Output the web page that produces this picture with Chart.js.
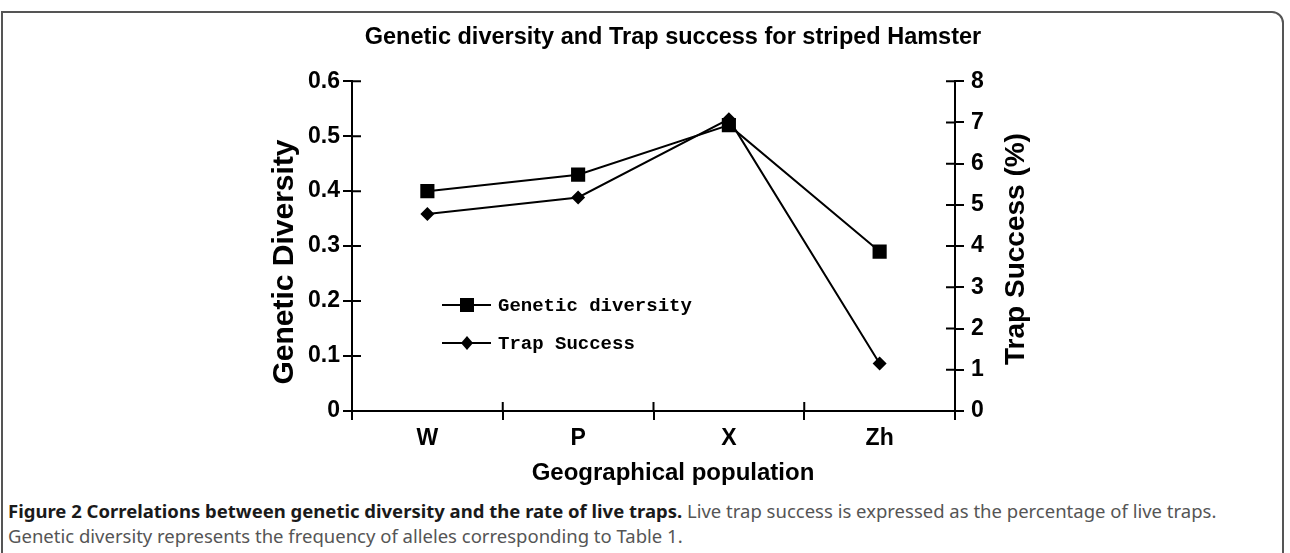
<!DOCTYPE html>
<html>
<head>
<meta charset="utf-8">
<script src="https://cdn.jsdelivr.net/npm/chart.js@4.4.0/dist/chart.umd.min.js"></script>
<style>
  html, body { margin: 0; padding: 0; background: #fff; }
  body { width: 1290px; height: 553px; position: relative; overflow: hidden; }
  #frame { position: absolute; left: 1px; top: 11px; width: 1283px; height: 600px; border: 2px solid #555; border-top-right-radius: 12px; box-sizing: border-box; }
  #graf { position: absolute; left: 0; top: 0; }
  #caption { position: absolute; left: 8px; top: 498px; font-family: "Noto Sans", sans-serif; font-size: 18.5px; line-height: 25px; color: #555; white-space: nowrap; }
  #caption b { color: #1a1a1a; }
</style>
</head>
<body>
<div id="frame"></div>
<canvas id="graf" width="1290" height="495"></canvas>
<div id="caption"><b>Figure 2 Correlations between genetic diversity and the rate of live traps.</b> Live trap success is expressed as the percentage of live traps.<br>Genetic diversity represents the frequency of alleles corresponding to Table 1.</div>
<script>
const populations = ['W', 'P', 'X', 'Zh'];
const geneticDiversity = [0.40, 0.43, 0.52, 0.29];
const trapSuccess = [4.78, 5.18, 7.08, 1.15];
const leftTicks = ['0', '0.1', '0.2', '0.3', '0.4', '0.5', '0.6'];
const rightTicks = ['0', '1', '2', '3', '4', '5', '6', '7', '8'];

const arial = '"Liberation Sans", Arial, sans-serif';

function rotatedText(ctx, text, x, y, size) {
  ctx.save();
  ctx.translate(x, y);
  ctx.rotate(-Math.PI / 2);
  ctx.font = 'bold ' + size + 'px ' + arial;
  ctx.textAlign = 'center';
  ctx.textBaseline = 'middle';
  ctx.fillText(text, 0, 0);
  ctx.restore();
}

// inner halves of the tick marks, legend box and axis titles
const extras = {
  id: 'extras',
  afterDraw(chart) {
    const ctx = chart.ctx;
    const {left, right, bottom} = chart.chartArea;
    const x = chart.scales.x, y = chart.scales.y, y1 = chart.scales.y1;
    ctx.save();
    ctx.strokeStyle = '#000';
    ctx.fillStyle = '#000';
    ctx.lineWidth = 2;
    ctx.beginPath();
    y.ticks.forEach(t => { const p = y.getPixelForValue(t.value); ctx.moveTo(left, p); ctx.lineTo(left + 9, p); });
    y1.ticks.forEach(t => { const p = y1.getPixelForValue(t.value); ctx.moveTo(right, p); ctx.lineTo(right - 9, p); });
    for (let i = 0; i <= populations.length; i++) {
      const p = x.getPixelForValue(i - 0.5);
      ctx.moveTo(p, bottom); ctx.lineTo(p, bottom - 9);
    }
    ctx.stroke();

    // legend
    const rows = [305, 343];
    chart.data.datasets.forEach((ds, i) => {
      const ry = rows[i];
      ctx.beginPath();
      ctx.moveTo(442, ry); ctx.lineTo(491, ry);
      ctx.stroke();
      ctx.beginPath();
      if (ds.pointStyle === 'rect') {
        ctx.rect(467 - 7, ry - 7, 14, 14);
      } else {
        ctx.moveTo(467, ry - 7); ctx.lineTo(473, ry); ctx.lineTo(467, ry + 7); ctx.lineTo(461, ry);
        ctx.closePath();
      }
      ctx.fill();
      ctx.font = 'bold 19px "Liberation Mono", monospace';
      ctx.textBaseline = 'middle';
      ctx.textAlign = 'left';
      ctx.fillText(ds.label, 498, ry + 1);
    });

    // axis titles
    rotatedText(ctx, 'Genetic Diversity', 285, 262, 30);
    rotatedText(ctx, 'Trap Success (%)', 1016, 249, 28);
    ctx.font = 'bold 24px ' + arial;
    ctx.textAlign = 'center';
    ctx.textBaseline = 'middle';
    ctx.fillText('Geographical population', 673, 473);
    ctx.restore();
  }
};

const axisGrid = { drawOnChartArea: false, tickLength: 9, color: '#000', lineWidth: 2 };
const axisBorder = { color: '#000', width: 2 };
const tickFont = { family: arial, weight: 'bold', size: 23 };

const config = {
  type: 'line',
  data: {
    labels: populations,
    datasets: [
      {
        label: 'Genetic diversity',
        data: geneticDiversity,
        yAxisID: 'y',
        borderColor: '#000',
        backgroundColor: '#000',
        borderWidth: 2,
        pointStyle: 'rect',
        pointRadius: 10,
        pointBorderWidth: 0
      },
      {
        label: 'Trap Success',
        data: trapSuccess,
        yAxisID: 'y1',
        borderColor: '#000',
        backgroundColor: '#000',
        borderWidth: 2,
        pointStyle: 'rectRot',
        pointRadius: 7,
        pointBorderWidth: 0
      }
    ]
  },
  options: {
    responsive: false,
    animation: false,
    devicePixelRatio: 1,
    layout: { padding: { left: 56, right: 0, top: 0, bottom: 0 } },
    plugins: {
      legend: { display: false },
      tooltip: { enabled: false },
      title: {
        display: true,
        text: 'Genetic diversity and Trap success for striped Hamster',
        color: '#000',
        font: { family: arial, weight: 'bold', size: 23.5 },
        padding: { top: 23, bottom: 30 }
      }
    },
    scales: {
      x: {
        type: 'category',
        offset: true,
        grid: Object.assign({ offset: true }, axisGrid),
        border: axisBorder,
        ticks: { color: '#000', font: tickFont, padding: 5 },
        afterFit(s) { s.height = 84; }
      },
      y: {
        position: 'left',
        min: 0,
        max: 0.6,
        grid: axisGrid,
        border: axisBorder,
        ticks: {
          stepSize: 0.1,
          color: '#000',
          font: tickFont,
          padding: 3,
          callback: (v, i) => leftTicks[i]
        },
        afterFit(s) { s.width = 296; }
      },
      y1: {
        position: 'right',
        min: 0,
        max: 8,
        grid: axisGrid,
        border: axisBorder,
        ticks: {
          stepSize: 1,
          color: '#000',
          font: tickFont,
          padding: 7,
          callback: (v, i) => rightTicks[i]
        },
        afterFit(s) { s.width = 335; }
      }
    }
  },
  plugins: [extras]
};

new Chart(document.getElementById('graf').getContext('2d'), config);
</script>
</body>
</html>
